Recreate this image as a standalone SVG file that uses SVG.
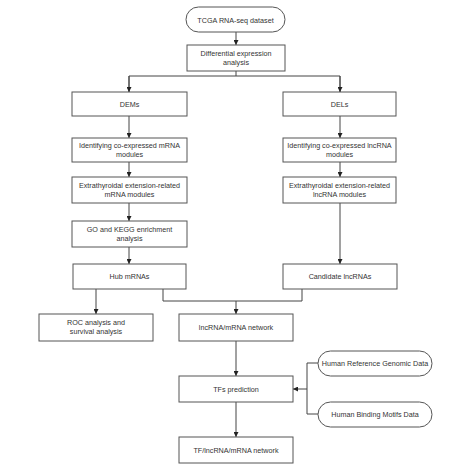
<svg xmlns="http://www.w3.org/2000/svg" width="474" height="474" viewBox="0 0 474 474">
<style>
.b{fill:#fff;stroke:#555;stroke-width:1}
.t{font-family:"Liberation Sans",Arial,sans-serif;font-size:7.2px;fill:#333;text-anchor:middle}
.c{fill:none;stroke:#444;stroke-width:1}
</style>
<defs>
<marker id="a" viewBox="0 0 6 6" refX="6" refY="3" markerWidth="5" markerHeight="5" orient="auto" markerUnits="userSpaceOnUse"><path d="M0,0L6,3L0,6z" fill="#222"/></marker>
</defs>
<rect width="474" height="474" fill="#fff"/>
<g id="connectors">
<path class="c" d="M236,32V45" marker-end="url(#a)"/>
<path class="c" d="M236,71V76M129,76H340M129,76V92M340,76V92" />
<path class="c" d="M129,76V92" marker-end="url(#a)"/>
<path class="c" d="M340,76V92" marker-end="url(#a)"/>
<path class="c" d="M129,116V138" marker-end="url(#a)"/>
<path class="c" d="M340,116V138" marker-end="url(#a)"/>
<path class="c" d="M129,162V177" marker-end="url(#a)"/>
<path class="c" d="M340,162V177" marker-end="url(#a)"/>
<path class="c" d="M129,203V221" marker-end="url(#a)"/>
<path class="c" d="M129,247V264" marker-end="url(#a)"/>
<path class="c" d="M340,203V264" marker-end="url(#a)"/>
<path class="c" d="M96,289V314" marker-end="url(#a)"/>
<path class="c" d="M163,289V301H302V289"/>
<path class="c" d="M236,301V314" marker-end="url(#a)"/>
<path class="c" d="M236,341V376" marker-end="url(#a)"/>
<path class="c" d="M318,363H307V414H318"/>
<path class="c" d="M307,389H293" marker-end="url(#a)"/>
<path class="c" d="M236,402V437" marker-end="url(#a)"/>
</g>
<g id="n1"><rect class="b" x="186" y="7" width="99" height="25" rx="12.5"/><text class="t" x="235.5" y="22.5">TCGA RNA-seq dataset</text></g>
<g id="n2"><rect class="b" x="187" y="45" width="98" height="26"/><text class="t" x="236" y="56">Differential expression</text><text class="t" x="236" y="65">analysis</text></g>
<g id="n3"><rect class="b" x="72" y="92" width="115" height="24"/><text class="t" x="129.5" y="106.5">DEMs</text></g>
<g id="n4"><rect class="b" x="283" y="92" width="113" height="24"/><text class="t" x="339.5" y="106.5">DELs</text></g>
<g id="n5"><rect class="b" x="72" y="138" width="115" height="24"/><text class="t" x="129.5" y="148">Identifying co-expressed mRNA</text><text class="t" x="129.5" y="157">modules</text></g>
<g id="n6"><rect class="b" x="283" y="138" width="113" height="24"/><text class="t" x="339.5" y="148">Identifying co-expressed lncRNA</text><text class="t" x="339.5" y="157">modules</text></g>
<g id="n7"><rect class="b" x="72" y="177" width="115" height="26"/><text class="t" x="129.5" y="188">Extrathyroidal extension-related</text><text class="t" x="129.5" y="197">mRNA modules</text></g>
<g id="n8"><rect class="b" x="283" y="177" width="113" height="26"/><text class="t" x="339.5" y="188">Extrathyroidal extension-related</text><text class="t" x="339.5" y="197">lncRNA modules</text></g>
<g id="n9"><rect class="b" x="72" y="221" width="115" height="26"/><text class="t" x="129.5" y="232">GO and KEGG enrichment</text><text class="t" x="129.5" y="241">analysis</text></g>
<g id="n10"><rect class="b" x="73" y="264" width="113" height="25"/><text class="t" x="129.5" y="279">Hub mRNAs</text></g>
<g id="n11"><rect class="b" x="283" y="264" width="114" height="25"/><text class="t" x="340" y="279">Candidate lncRNAs</text></g>
<g id="n12"><rect class="b" x="39" y="314" width="114" height="27"/><text class="t" x="96" y="325">ROC analysis and</text><text class="t" x="96" y="334">survival analysis</text></g>
<g id="n13"><rect class="b" x="179" y="314" width="114" height="27"/><text class="t" x="236" y="330">lncRNA/mRNA network</text></g>
<g id="n14"><rect class="b" x="179" y="376" width="114" height="26"/><text class="t" x="236" y="391.5">TFs prediction</text></g>
<g id="n15"><rect class="b" x="318" y="351" width="114" height="25" rx="12.5"/><text class="t" x="375" y="366">Human Reference Genomic Data</text></g>
<g id="n16"><rect class="b" x="318" y="402" width="114" height="25" rx="12.5"/><text class="t" x="375" y="417">Human Binding Motifs Data</text></g>
<g id="n17"><rect class="b" x="179" y="437" width="114" height="26"/><text class="t" x="236" y="452.5">TF/lncRNA/mRNA network</text></g>
</svg>
